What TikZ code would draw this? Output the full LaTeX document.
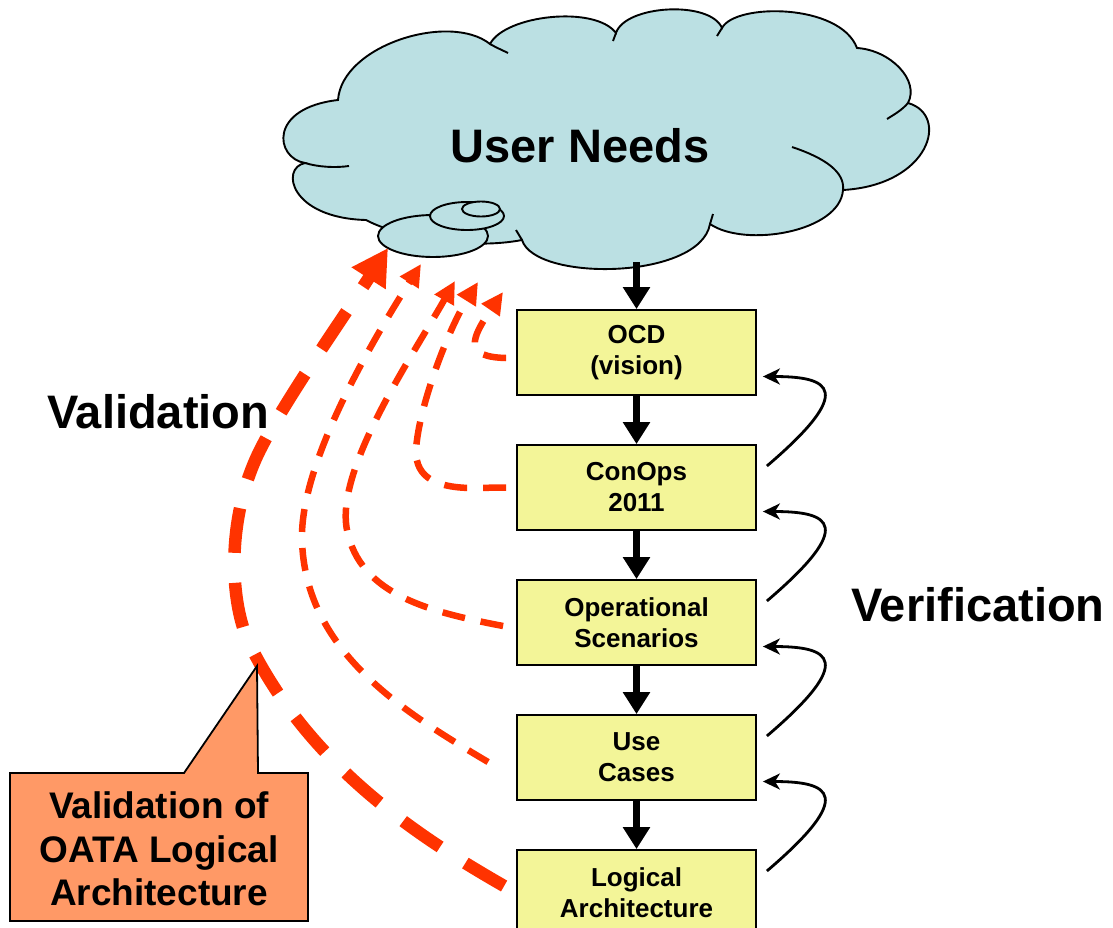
\documentclass[tikz,border=0pt]{standalone}
\usepackage{fontspec}
\setmainfont{Liberation Sans}
\usetikzlibrary{arrows.meta,calc}
\definecolor{cloudfill}{RGB}{187,224,227}
\definecolor{boxfill}{RGB}{243,245,152}
\definecolor{callfill}{RGB}{255,153,102}
\definecolor{valred}{RGB}{255,51,0}
\begin{document}
\begin{tikzpicture}[x=1pt,y=-1pt,
  box/.style={draw=black, line width=1.8pt, fill=boxfill, minimum width=239pt, minimum height=85pt, inner sep=0pt, align=center, font=\fontsize{26}{31}\selectfont\bfseries},
  flow/.style={line width=7.5pt, -{Triangle[length=22pt,width=26pt]}},
  verif/.style={line width=2.8pt, -{Stealth[length=17pt,width=16pt,inset=5pt]}},
  valthin/.style={valred, line width=6.5pt, dash pattern=on 23pt off 16pt, -{Triangle[length=22pt,width=21pt]}},
  valthick/.style={valred, line width=12.5pt, dash pattern=on 45pt off 30pt, -{Triangle[length=36pt,width=38pt]}},
  cloudline/.style={line width=1.9pt},
  bigtext/.style={font=\fontsize{47}{52}\selectfont\bfseries, inner sep=0pt},
]
\useasboundingbox (0,0) rectangle (1113,927);
\clip (0,0) rectangle (1113,927);

% cloud body
\draw[cloudline, fill=cloudfill] (305,163) .. controls (275,158) and (268,108) .. (338,100)
 .. controls (342,45) and (450,12) .. (490,44)
 .. controls (505,15) and (595,5) .. (616,33)
 .. controls (625,5) and (710,0) .. (722,28)
 .. controls (735,3) and (840,3) .. (857,48)
 .. controls (890,50) and (920,80) .. (908,103)
 .. controls (950,115) and (930,185) .. (843,190)
 .. controls (840,232) and (745,248) .. (710,224)
 .. controls (700,280) and (535,282) .. (522,240)
 .. controls (470,250) and (400,238) .. (366,220)
 .. controls (290,218) and (280,168) .. (305,163) -- cycle;
% creases
\draw[cloudline] (490,44) .. controls (497,48) and (502,50) .. (508,53);
\draw[cloudline] (616,33) -- (613,41);
\draw[cloudline] (722,28) -- (717,36);
\draw[cloudline] (908,103) .. controls (902,110) and (895,114) .. (887,119);
\draw[cloudline] (792,147) .. controls (825,158) and (845,172) .. (843,190);
\draw[cloudline] (710,224) -- (713,214);
\draw[cloudline] (522,240) -- (516,230);
\draw[cloudline] (305,163) .. controls (318,167) and (335,168) .. (349,166);
% cloudlets
\draw[cloudline, fill=cloudfill] (433,236) ellipse [x radius=55pt, y radius=21pt];
\draw[cloudline, fill=cloudfill] (467,216) ellipse [x radius=37pt, y radius=14pt];
\draw[cloudline, fill=cloudfill] (481,209) ellipse [x radius=19pt, y radius=7.5pt];
\node[bigtext, anchor=base] (untext) at (580,162) {User Needs};

% boxes
\node[box] (ocd) at (636.5,352.5) {OCD\\(vision)};
\node[box] (conops) at (636.5,487.5) {ConOps\\2011};
\node[box] (ops) at (636.5,622.5) {Operational\\Scenarios};
\node[box] (uc) at (636.5,757.5) {Use\\Cases};
\node[box] (la) at (636.5,892.5) {Logical\\Architecture};

\coordinate (cb) at (636.5,262);
\draw[flow] (cb) -- (ocd.north);
\draw[flow] (ocd.south) -- (conops.north);
\draw[flow] (conops.south) -- (ops.north);
\draw[flow] (ops.south) -- (uc.north);
\draw[flow] (uc.south) -- (la.north);

% verification arrows
\foreach \a/\b in {ocd/conops,conops/ops,ops/uc,uc/la}{
  \draw[verif] ($(\b.east)+(10,-21.5)$) .. controls +(89,-76) and +(68,0) .. ($(\a.east)+(6,24)$);
}

% validation arrows
\coordinate (v1) at (503,292);
\coordinate (v2) at (478,282);
\coordinate (v3) at (455,281);
\coordinate (v4) at (421,264);
\coordinate (v5) at (388,248);
\draw[valthin] ($(ocd.west)+(-10,5.5)$) .. controls +(-42,-1) and +(-33,48) .. (v1);
\draw[valthin] ($(conops.west)+(-10,0)$) -- (470,488) .. controls (425,487) and (412,470) .. (417,440) .. controls (422,400) and (448,330) .. (v2);
\draw[valthin] ($(ops.west)+(-13,3.5)$) .. controls (430,612) and (360,595) .. (347,530) .. controls (335,470) and (410,360) .. (v3);
\draw[valthin] ($(uc.west)+(-28,4.5)$) .. controls (400,710) and (305,650) .. (302,540) .. controls (300,470) and (360,360) .. (v4);
\draw[valthick] ($(la.west)+(-12,-6.5)$) .. controls (415,835) and (310,765) .. (250,645) .. controls (230,605) and (225,520) .. (260,450) .. controls (285,400) and (345,315) .. (v5);

% callout
\draw[line width=1.8pt, fill=callfill] (10,773) -- (184,773) -- (257,666) -- (258,773) -- (308,773) -- (308,921) -- (10,921) -- cycle;
\node[font=\fontsize{37}{43.5}\selectfont\bfseries, align=center, inner sep=0pt] (calltext) at (159,849) {Validation of\\OATA Logical\\Architecture};

\node[bigtext, anchor=base west] (valtext) at (47,428) {Validation};
\node[bigtext, anchor=base west] (vertext) at (851,621) {Verification};
\end{tikzpicture}
\end{document}
